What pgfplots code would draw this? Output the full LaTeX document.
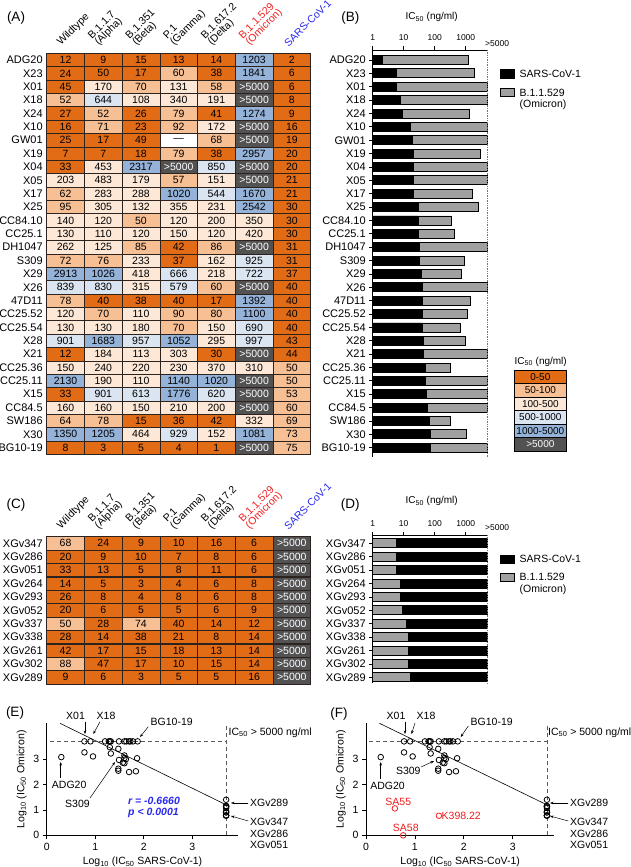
\documentclass[border=0pt]{standalone}
\usepackage{pgfplots}
\pgfplotsset{compat=1.18}
\usepackage{pgfplotstable}
\usepackage{fontspec}
\setmainfont{Liberation Sans}
\usetikzlibrary{arrows.meta}
\definecolor{cOr}{RGB}{226,108,22}
\definecolor{cLo}{RGB}{247,191,148}
\definecolor{cPe}{RGB}{253,232,215}
\definecolor{cLb}{RGB}{219,229,242}
\definecolor{cBl}{RGB}{149,179,217}
\definecolor{cDg}{RGB}{82,82,82}
\definecolor{cRed}{RGB}{240,30,30}
\definecolor{cBlue}{RGB}{40,40,240}
\definecolor{cGray}{RGB}{160,160,160}
\definecolor{cEdge}{RGB}{45,35,30}

\pgfplotstableread{
x y c lab
1 1 0 12
2 1 0 9
3 1 0 15
4 1 0 13
5 1 0 14
6 1 4 1203
7 1 0 2
1 2 0 24
2 2 0 50
3 2 0 17
4 2 1 60
5 2 0 38
6 2 4 1841
7 2 0 6
1 3 0 45
2 3 2 170
3 3 1 70
4 3 2 131
5 3 1 58
6 3 5 >5000
7 3 0 6
1 4 1 52
2 4 3 644
3 4 2 108
4 4 2 340
5 4 2 191
6 4 5 >5000
7 4 0 8
1 5 0 27
2 5 1 52
3 5 0 26
4 5 1 79
5 5 0 41
6 5 4 1274
7 5 0 9
1 6 0 16
2 6 1 71
3 6 0 23
4 6 1 92
5 6 2 172
6 6 5 >5000
7 6 0 16
1 7 0 25
2 7 0 17
3 7 0 49
4 7 6 —
5 7 1 68
6 7 5 >5000
7 7 0 19
1 8 0 7
2 8 0 7
3 8 0 18
4 8 1 79
5 8 0 38
6 8 4 2957
7 8 0 20
1 9 0 33
2 9 2 453
3 9 4 2317
4 9 5 >5000
5 9 3 850
6 9 5 >5000
7 9 0 20
1 10 2 203
2 10 2 483
3 10 2 179
4 10 1 57
5 10 2 151
6 10 5 >5000
7 10 0 21
1 11 1 62
2 11 2 283
3 11 2 288
4 11 4 1020
5 11 3 544
6 11 4 1670
7 11 0 21
1 12 1 95
2 12 2 305
3 12 2 132
4 12 2 355
5 12 2 231
6 12 4 2542
7 12 0 30
1 13 2 140
2 13 2 120
3 13 1 50
4 13 2 120
5 13 2 200
6 13 2 350
7 13 0 30
1 14 2 130
2 14 2 110
3 14 2 120
4 14 2 150
5 14 2 120
6 14 2 420
7 14 0 30
1 15 2 262
2 15 2 125
3 15 1 85
4 15 0 42
5 15 1 86
6 15 5 >5000
7 15 0 31
1 16 1 72
2 16 1 76
3 16 2 233
4 16 0 37
5 16 2 162
6 16 3 925
7 16 0 31
1 17 4 2913
2 17 4 1026
3 17 2 418
4 17 3 666
5 17 2 218
6 17 3 722
7 17 0 37
1 18 3 839
2 18 3 830
3 18 2 315
4 18 3 579
5 18 1 60
6 18 5 >5000
7 18 0 40
1 19 1 78
2 19 0 40
3 19 0 38
4 19 0 40
5 19 0 17
6 19 4 1392
7 19 0 40
1 20 2 120
2 20 1 70
3 20 2 110
4 20 1 90
5 20 1 80
6 20 4 1100
7 20 0 40
1 21 2 130
2 21 2 130
3 21 2 180
4 21 1 70
5 21 2 150
6 21 3 690
7 21 0 40
1 22 3 901
2 22 4 1683
3 22 3 957
4 22 4 1052
5 22 2 295
6 22 3 997
7 22 0 43
1 23 0 12
2 23 2 184
3 23 2 113
4 23 2 303
5 23 0 30
6 23 5 >5000
7 23 0 44
1 24 2 150
2 24 2 240
3 24 2 220
4 24 2 230
5 24 2 370
6 24 2 310
7 24 1 50
1 25 4 2130
2 25 2 190
3 25 2 110
4 25 4 1140
5 25 4 1020
6 25 5 >5000
7 25 1 50
1 26 0 33
2 26 3 901
3 26 3 613
4 26 4 1776
5 26 3 620
6 26 5 >5000
7 26 1 53
1 27 2 160
2 27 2 160
3 27 2 150
4 27 2 210
5 27 2 200
6 27 5 >5000
7 27 1 60
1 28 1 64
2 28 1 78
3 28 0 15
4 28 0 36
5 28 0 42
6 28 2 332
7 28 1 69
1 29 4 1350
2 29 4 1205
3 29 2 464
4 29 3 929
5 29 2 152
6 29 4 1081
7 29 1 73
1 30 0 8
2 30 0 3
3 30 0 5
4 30 0 4
5 30 0 1
6 30 5 >5000
7 30 1 75
}\tabA

\pgfplotstableread{
x y c lab
1 1 1 68
2 1 0 24
3 1 0 9
4 1 0 10
5 1 0 16
6 1 0 6
7 1 5 >5000
1 2 0 20
2 2 0 9
3 2 0 10
4 2 0 7
5 2 0 8
6 2 0 6
7 2 5 >5000
1 3 0 33
2 3 0 13
3 3 0 5
4 3 0 8
5 3 0 11
6 3 0 6
7 3 5 >5000
1 4 0 14
2 4 0 5
3 4 0 3
4 4 0 4
5 4 0 6
6 4 0 8
7 4 5 >5000
1 5 0 26
2 5 0 8
3 5 0 4
4 5 0 8
5 5 0 6
6 5 0 8
7 5 5 >5000
1 6 0 20
2 6 0 6
3 6 0 5
4 6 0 5
5 6 0 6
6 6 0 9
7 6 5 >5000
1 7 1 50
2 7 0 28
3 7 1 74
4 7 0 40
5 7 0 14
6 7 0 12
7 7 5 >5000
1 8 0 28
2 8 0 14
3 8 0 38
4 8 0 21
5 8 0 8
6 8 0 14
7 8 5 >5000
1 9 0 42
2 9 0 17
3 9 0 15
4 9 0 18
5 9 0 13
6 9 0 14
7 9 5 >5000
1 10 1 88
2 10 0 47
3 10 0 17
4 10 0 10
5 10 0 15
6 10 0 14
7 10 5 >5000
1 11 0 9
2 11 0 6
3 11 0 3
4 11 0 5
5 11 0 5
6 11 0 16
7 11 5 >5000
}\tabC

\def\gtfive{>5000}
\newcommand{\celllab}{\edef\tmplab{\pgfplotspointmeta}\ifx\tmplab\gtfive\color{white}\fi\tmplab}

\pgfplotsset{
  /pgf/number format/assume math mode=true,
  heat/.style={
    scale only axis, anchor=north west, width=264pt,
    xmin=0.5, xmax=7.5, y dir=reverse,
    xtick=\empty,
    major tick length=0pt, minor tick length=0pt,
    axis line style={cEdge, line width=1pt},
    axis on top,
    yticklabel style={font=\fontsize{11}{12}\selectfont, xshift=-0.5pt},
  },
  cellcol/.style={scatter, only marks, scatter src=explicit symbolic, mark=square*, mark size=6.69pt,
    every mark/.append style={xscale=2.82, line width=0.6pt},
    scatter/classes={0={fill=cOr,draw=cEdge},1={fill=cLo,draw=cEdge},2={fill=cPe,draw=cEdge},3={fill=cLb,draw=cEdge},4={fill=cBl,draw=cEdge},5={fill=cDg,draw=cEdge},6={fill=white,draw=cEdge}}},
  celltxt/.style={only marks, mark=none, point meta=explicit symbolic,
    nodes near coords={\celllab},
    every node near coord/.append style={anchor=center, inner sep=0pt, font=\fontsize{10.5}{12}\selectfont}},
  barax/.style={
    scale only axis, anchor=north west, width=114.7pt,
    xmin=1, xmax=5000,
    axis x line=top, axis y line=left, axis line style={-, line width=0.9pt},
    xtick={1,10,100,1000}, xticklabels={1,10,100,1000}, minor tick length=0pt,
    tick align=outside, major tick length=3.5pt, tick style={black, line width=0.8pt},
    xticklabel style={font=\fontsize{8.5}{10}\selectfont, yshift=2pt},
    yticklabel style={font=\fontsize{11}{12}\selectfont},
    clip=false},
  scax/.style={
    scale only axis, anchor=south west, height=112pt,
    ymin=0, ymax=4.41,
    axis x line=bottom, axis y line=left, axis line style={-, line width=0.9pt},
    xtick={0,1,2,3}, ytick={0,1,2,3}, tick align=outside, major tick length=4pt,
    tick style={black, line width=0.8pt},
    ticklabel style={font=\fontsize{10.5}{12}\selectfont},
    label style={font=\fontsize{10.5}{12}\selectfont},
    xlabel={Log\textsubscript{10} (IC\textsubscript{50} SARS-CoV-1)},
    ylabel={Log\textsubscript{10} (IC\textsubscript{50} Omicron)},
    clip=false},
}
\tikzset{
  hd/.style={rotate=45, anchor=south west, align=left, inner sep=0.5pt, font=\fontsize{10.5}{9.5}\selectfont},
  pl/.style={font=\fontsize{13.5}{15}\selectfont},
  an/.style={font=\fontsize{10.5}{12}\selectfont, inner sep=0pt},
  ar/.style={-{Stealth[length=3.5pt,width=2.6pt]}, line width=0.5pt},
}
\newcommand{\hdrs}[1]{%
  \node[hd] at (62.6pt,-#1pt) {Wildtype};
  \node[hd] at (100.3pt,-#1pt) {B.1.1.7\\(Alpha)};
  \node[hd] at (138pt,-#1pt) {B.1.351\\(Beta)};
  \node[hd] at (175.7pt,-#1pt) {P.1\\(Gamma)};
  \node[hd] at (213.4pt,-#1pt) {B.1.617.2\\(Delta)};
  \node[hd, text=cRed] at (251.1pt,-#1pt) {B.1.1.529\\(Omicron)};
  \node[hd, text=cBlue] at (288.8pt,-#1pt) {SARS-CoV-1};
}

\begin{document}
\begin{tikzpicture}
\useasboundingbox (0,0) rectangle (630pt,-867pt);

% ---------------- (A) heatmap
\begin{axis}[heat, at={(46.7pt,-53.3pt)}, height=401.1pt,
  ymin=0.5, ymax=30.5,
  ytick={1,...,30},
  yticklabels={ADG20,X23,X01,X18,X24,X10,GW01,X19,X04,X05,X17,X25,CC84.10,CC25.1,DH1047,S309,X29,X26,47D11,CC25.52,CC25.54,X28,X21,CC25.36,CC25.11,X15,CC84.5,SW186,X30,BG10-19}]
\addplot[cellcol] table[x=x, y=y, meta=c] {\tabA};
\addplot[celltxt] table[x=x, y=y, meta=lab] {\tabA};
\end{axis}
\hdrs{48.3}
\node[pl] at (16pt,-18pt) {(A)};

% ---------------- (C) heatmap
\begin{axis}[heat, at={(46.7pt,-536.6pt)}, height=147.4pt,
  ymin=0.5, ymax=11.5,
  ytick={1,...,11},
  yticklabels={XGv347,XGv286,XGv051,XGv264,XGv293,XGv052,XGv337,XGv338,XGv261,XGv302,XGv289}]
\addplot[cellcol] table[x=x, y=y, meta=c] {\tabC};
\addplot[celltxt] table[x=x, y=y, meta=lab] {\tabC};
\end{axis}
\hdrs{531.6}
\node[pl] at (16pt,-505pt) {(C)};

% ---------------- (B) bars
\begin{semilogxaxis}[barax, at={(372.7pt,-50pt)}, height=407.1pt,
  ymin=-30.7, ymax=-0.25,
  ytick={-30,...,-1},
  yticklabels={BG10-19,X30,SW186,CC84.5,X15,CC25.11,CC25.36,X21,X28,CC25.54,CC25.52,47D11,X26,X29,S309,DH1047,CC25.1,CC84.10,X25,X17,X05,X04,X19,GW01,X10,X24,X18,X01,X23,ADG20}]
\addplot[xbar, bar width=9pt, bar shift=0pt, fill=cGray, draw=black, line width=0.8pt] coordinates {
(1203,-1) (1841,-2) (5000,-3) (5000,-4) (1274,-5) (5000,-6) (5000,-7) (2957,-8) (5000,-9) (5000,-10)
(1670,-11) (2542,-12) (350,-13) (420,-14) (5000,-15) (925,-16) (722,-17) (5000,-18) (1392,-19) (1100,-20)
(690,-21) (997,-22) (5000,-23) (310,-24) (5000,-25) (5000,-26) (5000,-27) (332,-28) (1081,-29) (5000,-30)};
\addplot[xbar, bar width=9pt, bar shift=0pt, fill=black, draw=black, line width=0.8pt] coordinates {
(2,-1) (6,-2) (6,-3) (8,-4) (9,-5) (16,-6) (19,-7) (20,-8) (20,-9) (21,-10)
(21,-11) (30,-12) (30,-13) (30,-14) (31,-15) (31,-16) (37,-17) (40,-18) (40,-19) (40,-20)
(40,-21) (43,-22) (44,-23) (50,-24) (50,-25) (53,-26) (60,-27) (69,-28) (73,-29) (75,-30)};
\addplot[densely dotted, black!55, line width=0.7pt] coordinates {(5000,-30.7) (5000,-0.25)};
\end{semilogxaxis}
\node[pl] at (350.3pt,-18pt) {(B)};
\node[font=\fontsize{10}{12}\selectfont] at (431.7pt,-17pt) {IC\textsubscript{50} (ng/ml)};
\node[font=\fontsize{8.5}{10}\selectfont, anchor=west, inner sep=0pt] at (485pt,-43.3pt) {>5000};
% legend B
\fill[black] (500pt,-69.5pt) rectangle (515pt,-78.5pt);
\node[an, anchor=west] at (519.5pt,-74pt) {SARS-CoV-1};
\draw[fill=cGray, line width=0.8pt] (500.4pt,-88.4pt) rectangle (514.6pt,-96.6pt);
\node[an, anchor=west] at (519.5pt,-92.5pt) {B.1.1.529};
\node[an, anchor=west] at (519.5pt,-104.5pt) {(Omicron)};

% colour key
\node[font=\fontsize{10}{12}\selectfont] at (540.7pt,-361.5pt) {IC\textsubscript{50} (ng/ml)};
\foreach \ii/\kcol/\klab/\ktc in {0/cOr/0-50/black, 1/cLo/50-100/black, 2/cPe/100-500/black, 3/cLb/500-1000/black, 4/cBl/1000-5000/black, 5/cDg/>5000/white}{
  \draw[fill=\kcol, line width=0.8pt] (514pt,{-370pt-13.5pt*\ii}) rectangle (566.7pt,{-383.5pt-13.5pt*\ii});
  \node[font=\fontsize{10}{12}\selectfont, text=\ktc] at (540.35pt,{-376.75pt-13.5pt*\ii}) {\klab};
}

% ---------------- (D) bars
\begin{semilogxaxis}[barax, at={(372.7pt,-535.3pt)}, height=148.1pt,
  ymin=-11.45, ymax=-0.4,
  ytick={-11,...,-1},
  yticklabels={XGv289,XGv302,XGv261,XGv338,XGv337,XGv052,XGv293,XGv264,XGv051,XGv286,XGv347}]
\addplot[xbar, bar width=9pt, bar shift=0pt, fill=black, draw=black, line width=0.8pt] coordinates {
(5000,-1) (5000,-2) (5000,-3) (5000,-4) (5000,-5) (5000,-6) (5000,-7) (5000,-8) (5000,-9) (5000,-10) (5000,-11)};
\addplot[xbar, bar width=9pt, bar shift=0pt, fill=cGray, draw=black, line width=0.8pt] coordinates {
(6,-1) (6,-2) (6,-3) (8,-4) (8,-5) (9,-6) (12,-7) (14,-8) (14,-9) (14,-10) (16,-11)};
\addplot[densely dotted, black!55, line width=0.7pt] coordinates {(5000,-11.45) (5000,-0.4)};
\end{semilogxaxis}
\node[pl] at (350.3pt,-505pt) {(D)};
\node[font=\fontsize{10}{12}\selectfont] at (431.7pt,-501pt) {IC\textsubscript{50} (ng/ml)};
\node[font=\fontsize{8.5}{10}\selectfont, anchor=west, inner sep=0pt] at (485pt,-527.3pt) {>5000};
\fill[black] (500pt,-554.5pt) rectangle (515pt,-563.5pt);
\node[an, anchor=west] at (519.5pt,-559pt) {SARS-CoV-1};
\draw[fill=cGray, line width=0.8pt] (500.4pt,-573pt) rectangle (514.6pt,-581pt);
\node[an, anchor=west] at (519.5pt,-577.3pt) {B.1.1.529};
\node[an, anchor=west] at (519.5pt,-589.3pt) {(Omicron)};

% ---------------- (E) scatter
\begin{axis}[scax, at={(46.7pt,-835.3pt)}, width=191.6pt, xmin=0, xmax=3.95]
\addplot[gray!70!black, dash pattern=on 4pt off 3pt, line width=0.7pt] coordinates {(0.07,3.699) (3.699,3.699)};
\addplot[gray!70!black, dash pattern=on 4pt off 3pt, line width=0.7pt] coordinates {(3.699,0) (3.699,4.41)};
\addplot[black, line width=0.6pt] coordinates {(0.275,4.41) (3.71,1.19)};
\addplot[only marks, mark=o, mark size=2.8pt, mark options={line width=0.8pt}, black] coordinates {
(0.301,3.080) (0.778,3.265) (0.778,3.699) (0.903,3.699) (0.954,3.105) (1.204,3.699) (1.279,3.699) (1.301,3.471) (1.301,3.699) (1.322,3.699)
(1.322,3.223) (1.477,3.405) (1.477,2.544) (1.477,2.623) (1.491,3.699) (1.491,2.966) (1.568,2.859) (1.602,3.699) (1.602,3.144) (1.602,3.041)
(1.602,2.839) (1.633,2.999) (1.643,3.699) (1.699,2.491) (1.699,3.699) (1.724,3.699) (1.778,3.699) (1.839,2.521) (1.863,3.034) (1.875,3.699)
(3.699,0.778) (3.699,0.778) (3.699,0.778) (3.699,0.903) (3.699,0.903) (3.699,0.954) (3.699,1.079) (3.699,1.146) (3.699,1.146) (3.699,1.146) (3.699,1.40)};
\end{axis}
\node[pl] at (15pt,-713pt) {(E)};
\node[an] at (75.5pt,-716pt) {X01};
\node[an] at (106pt,-716pt) {X18};
\node[an] at (171.7pt,-721.7pt) {BG10-19};
\node[an] at (69.2pt,-785pt) {ADG20};
\node[an] at (77.5pt,-804pt) {S309};
\node[an, anchor=west, text=cBlue, font=\fontsize{10.5}{12}\selectfont\bfseries\itshape] at (128pt,-801pt) {r = -0.6660};
\node[an, anchor=west, text=cBlue, font=\fontsize{10.5}{12}\selectfont\bfseries\itshape] at (128pt,-812.7pt) {p < 0.0001};
\node[an, anchor=west] at (250pt,-802.5pt) {XGv289};
\node[an, anchor=west] at (250pt,-821.5pt) {XGv347};
\node[an, anchor=west] at (250pt,-833.5pt) {XGv286};
\node[an, anchor=west] at (250pt,-845pt) {XGv051};
\node[an, anchor=west] at (228.5pt,-732.3pt) {IC\textsubscript{50} > 5000 ng/ml};
\draw[ar] (85pt,-721.7pt) -- (85pt,-734pt);
\draw[ar] (100pt,-721.7pt) -- (93.3pt,-734pt);
\draw[ar] (148.3pt,-726.7pt) -- (140pt,-737pt);
\draw[ar] (60.7pt,-778pt) -- (60.7pt,-762pt);
\draw[ar] (90pt,-798pt) -- (115pt,-762pt);
\draw[ar] (248.3pt,-803pt) -- (231pt,-803pt);
\draw[ar] (248.3pt,-821pt) -- (231pt,-816pt);

% ---------------- (F) scatter
\begin{axis}[scax, at={(366pt,-835.3pt)}, width=188.3pt, xmin=0, xmax=3.85]
\addplot[gray!70!black, dash pattern=on 4pt off 3pt, line width=0.7pt] coordinates {(0.07,3.699) (3.699,3.699)};
\addplot[gray!70!black, dash pattern=on 4pt off 3pt, line width=0.7pt] coordinates {(3.699,0) (3.699,4.41)};
\addplot[black, line width=0.6pt] coordinates {(0.275,4.41) (3.71,1.19)};
\addplot[only marks, mark=o, mark size=2.8pt, mark options={line width=0.8pt}, black] coordinates {
(0.301,3.080) (0.778,3.265) (0.778,3.699) (0.903,3.699) (0.954,3.105) (1.204,3.699) (1.279,3.699) (1.301,3.471) (1.301,3.699) (1.322,3.699)
(1.322,3.223) (1.477,3.405) (1.477,2.544) (1.477,2.623) (1.491,3.699) (1.491,2.966) (1.568,2.859) (1.602,3.699) (1.602,3.144) (1.602,3.041)
(1.602,2.839) (1.633,2.999) (1.643,3.699) (1.699,2.491) (1.699,3.699) (1.724,3.699) (1.778,3.699) (1.839,2.521) (1.863,3.034) (1.875,3.699)
(3.699,0.778) (3.699,0.778) (3.699,0.778) (3.699,0.903) (3.699,0.903) (3.699,0.954) (3.699,1.079) (3.699,1.146) (3.699,1.146) (3.699,1.146) (3.699,1.40)};
\addplot[only marks, mark=o, mark size=2.8pt, mark options={line width=0.8pt}, cRed] coordinates {(0.59,1.06) (0.76,0) (1.49,0.77)};
\end{axis}
\node[pl] at (339pt,-714pt) {(F)};
\node[an] at (396pt,-716pt) {X01};
\node[an] at (426pt,-716pt) {X18};
\node[an] at (491.7pt,-721.7pt) {BG10-19};
\node[an] at (387.5pt,-785.7pt) {ADG20};
\node[an] at (408.3pt,-770.7pt) {S309};
\node[an, anchor=west] at (570pt,-802.5pt) {XGv289};
\node[an, anchor=west] at (570pt,-821.5pt) {XGv347};
\node[an, anchor=west] at (570pt,-833.5pt) {XGv286};
\node[an, anchor=west] at (570pt,-845pt) {XGv051};
\node[an, anchor=west] at (548pt,-732.3pt) {IC\textsubscript{50} > 5000 ng/ml};
\node[an, text=cRed] at (398.3pt,-801.7pt) {SA55};
\node[an, text=cRed] at (405.8pt,-827.7pt) {SA58};
\node[an, text=cRed, anchor=west] at (441.5pt,-815.7pt) {K398.22};
\draw[ar] (405pt,-721.7pt) -- (405pt,-734pt);
\draw[ar] (415pt,-723pt) -- (411.5pt,-734pt);
\draw[ar] (468.3pt,-726pt) -- (460.7pt,-737pt);
\draw[ar] (380.7pt,-779pt) -- (380.7pt,-762pt);
\draw[ar] (421pt,-767pt) -- (434pt,-761pt);
\draw[ar] (568.3pt,-803pt) -- (550pt,-803pt);
\draw[ar] (568.3pt,-821pt) -- (550pt,-816pt);
\end{tikzpicture}
\end{document}
